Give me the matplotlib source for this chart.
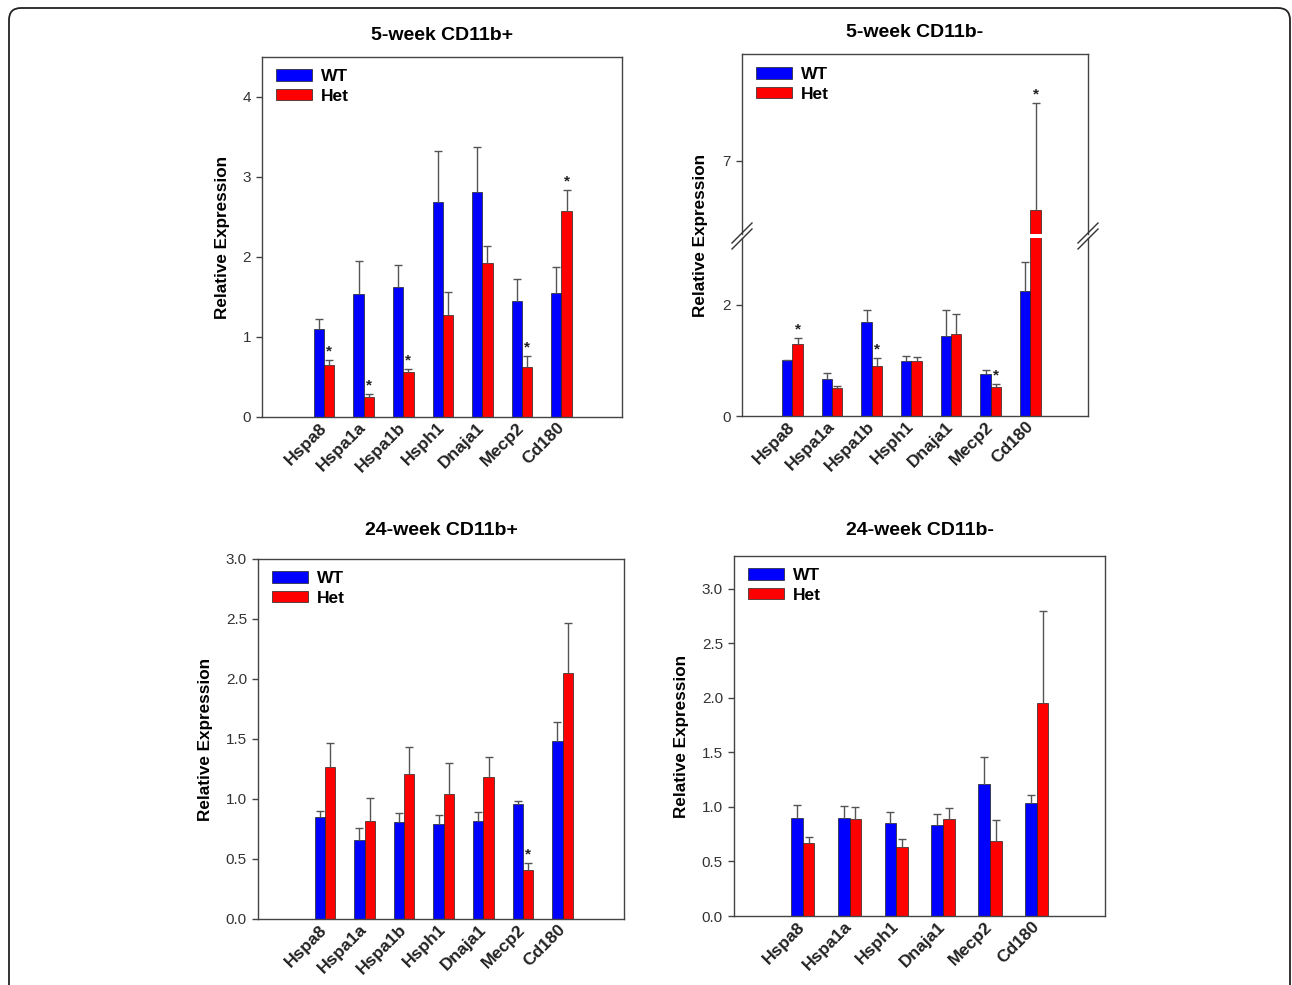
import numpy as np
import matplotlib
matplotlib.use("Agg")
import matplotlib.pyplot as plt
from matplotlib.patches import FancyBboxPatch
from matplotlib.transforms import IdentityTransform

plt.rcParams['font.family'] = ['Liberation Sans', 'DejaVu Sans']

# ______________________________ DATA ______________________________ #
genes7 = ["Hspa8", "Hspa1a", "Hspa1b", "Hsph1", "Dnaja1", "Mecp2", "Cd180"]
genes6 = ["Hspa8", "Hspa1a", "Hsph1", "Dnaja1", "Mecp2", "Cd180"]

# 5-week CD11b+
wt_5p = [1.10, 1.54, 1.63, 2.69, 2.81, 1.45, 1.55]
wt_5p_err = [1.23, 1.95, 1.90, 3.32, 3.37, 1.72, 1.87]     # top of error bar
het_5p = [0.65, 0.25, 0.56, 1.28, 1.93, 0.62, 2.58]
het_5p_err = [0.71, 0.29, 0.60, 1.56, 2.14, 0.76, 2.84]
star_5p = [1, 1, 1, 0, 0, 1, 1]

# 5-week CD11b-
wt_5m = [1.00, 0.67, 1.69, 0.98, 1.44, 0.75, 2.24]
wt_5m_err = [1.01, 0.78, 1.91, 1.08, 1.90, 0.83, 2.77]
het_5m = [1.30, 0.50, 0.90, 0.99, 1.48, 0.53, 6.12]
het_5m_err = [1.40, 0.545, 1.04, 1.06, 1.84, 0.58, 8.03]
star_5m = [1, 0, 1, 0, 0, 1, 1]

# 24-week CD11b+
wt_24p = [0.85, 0.66, 0.81, 0.79, 0.82, 0.96, 1.48]
wt_24p_err = [0.90, 0.76, 0.88, 0.87, 0.89, 0.985, 1.64]
het_24p = [1.27, 0.82, 1.21, 1.04, 1.18, 0.41, 2.05]
het_24p_err = [1.465, 1.01, 1.43, 1.30, 1.35, 0.47, 2.47]
star_24p = [0, 0, 0, 0, 0, 1, 0]

# 24-week CD11b-
wt_24m = [0.895, 0.90, 0.85, 0.834, 1.21, 1.033]
wt_24m_err = [1.02, 1.01, 0.956, 0.935, 1.457, 1.11]
het_24m = [0.665, 0.886, 0.635, 0.886, 0.69, 1.95]
het_24m_err = [0.725, 1.00, 0.71, 0.987, 0.883, 2.80]
star_24m = [0, 0, 0, 0, 0, 0]

BLUE = "#0000ff"
RED = "#ff0000"
EDGE = "#222222"
ECOL = "#555555"
W = 1292
H = 985


# ____________________________ FUNCTIONS ____________________________ #
def px_axes(fig, left, top, right, bottom):                 # axes from pixel box (top-origin)
    return fig.add_axes([left / W, (H - bottom) / H, (right - left) / W, (bottom - top) / H])


def draw_bars(ax, genes, wt, wt_e, het, het_e, stars, bw):
    x = np.arange(len(genes))
    ax.bar(x - bw / 2, wt, bw, color=BLUE, edgecolor=EDGE, linewidth=0.5, label="WT", zorder=2)
    ax.bar(x + bw / 2, het, bw, color=RED, edgecolor=EDGE, linewidth=0.5, label="Het", zorder=2)
    for xs, v, e in ((x - bw / 2, wt, wt_e), (x + bw / 2, het, het_e)):
        ax.vlines(xs, v, e, color=ECOL, linewidth=1.0, zorder=3)
        ax.plot(xs, e, linestyle="none", marker="_", markersize=6, markeredgewidth=1.0,
                color=ECOL, zorder=3)
    for i in range(len(genes)):
        if stars[i]:
            ax.annotate("*", (x[i] + bw / 2, het_e[i]), xytext=(0, 1), textcoords="offset points",
                        ha="center", va="bottom", fontsize=11, fontweight="bold", color="#222222")
    return x


def style_axes(ax):
    for s in ax.spines.values():
        s.set_color("#444444")
        s.set_linewidth(1.0)
    ax.tick_params(axis="y", direction="out", length=4, width=1, color="#444444",
                   labelsize=11, labelcolor="#333333", pad=4)
    ax.tick_params(axis="x", length=0, pad=6)


def set_xlabels(ax, x, genes):
    ax.set_xticks(x)
    ax.set_xticklabels(genes, rotation=45, ha="right", va="center", rotation_mode="anchor",
                       fontsize=12.5, fontweight="bold", color="#222222")


def add_legend(ax):
    ax.legend(loc="upper left", bbox_to_anchor=(0.0, 1.005), frameon=False,
              prop={"weight": "bold", "size": 12.5}, handlelength=2.1, handleheight=0.62,
              labelspacing=0.28, handletextpad=0.5, borderpad=0.3)


fig = plt.figure(figsize=(W / 100, H / 100), dpi=100)

# outer rounded frame
frame = FancyBboxPatch((9, -30), 1281, 1007, boxstyle="round,pad=0,rounding_size=12",
                       transform=IdentityTransform(), facecolor="none", edgecolor="#222222",
                       linewidth=1.3)
fig.patches.append(frame)

bw = 0.26

# ___________________________ 5-week CD11b+ ___________________________ #
ax1 = px_axes(fig, 262, 57, 622, 417)
x = draw_bars(ax1, genes7, wt_5p, wt_5p_err, het_5p, het_5p_err, star_5p, bw)
ax1.set_xlim(-1.57, 7.53)
ax1.set_ylim(0, 4.5)
ax1.set_yticks([0, 1, 2, 3, 4])
style_axes(ax1)
set_xlabels(ax1, x, genes7)
ax1.set_ylabel("Relative Expression", fontsize=12.3, fontweight="bold", labelpad=9)
ax1.set_title("5-week CD11b+", fontsize=14, fontweight="bold", pad=12)
add_legend(ax1)

# ___________________________ 5-week CD11b- (broken axis) ___________________________ #
ax2u = px_axes(fig, 742, 54, 1088, 234)
ax2l = px_axes(fig, 742, 238, 1088, 416)
for a in (ax2u, ax2l):
    x = draw_bars(a, genes7, wt_5m, wt_5m_err, het_5m, het_5m_err, star_5m, bw)
    a.set_xlim(-1.27, 7.45)
    style_axes(a)
ax2l.set_ylim(0, 3.2)
ax2l.set_yticks([0, 2])
ax2u.set_ylim(5.7, 8.9)
ax2u.set_yticks([7])
ax2u.spines["bottom"].set_visible(False)
ax2l.spines["top"].set_visible(False)
ax2u.set_xticks([])
set_xlabels(ax2l, x, genes7)
ax2u.set_title("5-week CD11b-", fontsize=14, fontweight="bold", pad=12)
add_legend(ax2u)
fig.text(700 / W, (H - 235) / H, "Relative Expression", rotation=90, ha="center", va="center",
         fontsize=12.3, fontweight="bold")
# break marks
for xb in (742, 1088):
    for dy in (-3, 3):
        fig.lines.append(plt.Line2D([(xb - 10) / W, (xb + 10) / W],
                                    [(H - 236 - 10 + dy) / H, (H - 236 + 10 + dy) / H],
                                    transform=fig.transFigure, color="#333333", linewidth=1.0))

# ___________________________ 24-week CD11b+ ___________________________ #
ax3 = px_axes(fig, 258, 559, 624, 919)
x = draw_bars(ax3, genes7, wt_24p, wt_24p_err, het_24p, het_24p_err, star_24p, bw)
ax3.set_xlim(-1.69, 7.55)
ax3.set_ylim(0, 3.0)
ax3.set_yticks(np.arange(0, 3.01, 0.5))
ax3.set_yticklabels(["%.1f" % v for v in np.arange(0, 3.01, 0.5)])
style_axes(ax3)
set_xlabels(ax3, x, genes7)
ax3.set_ylabel("Relative Expression", fontsize=12.3, fontweight="bold", labelpad=9)
ax3.set_title("24-week CD11b+", fontsize=14, fontweight="bold", pad=17)
add_legend(ax3)

# ___________________________ 24-week CD11b- ___________________________ #
ax4 = px_axes(fig, 734, 556, 1105, 916)
bw4 = 0.25
x = draw_bars(ax4, genes6, wt_24m, wt_24m_err, het_24m, het_24m_err, star_24m, bw4)
ax4.set_xlim(-1.47, 6.46)
ax4.set_ylim(0, 3.3)
ax4.set_yticks(np.arange(0, 3.01, 0.5))
ax4.set_yticklabels(["%.1f" % v for v in np.arange(0, 3.01, 0.5)])
style_axes(ax4)
set_xlabels(ax4, x, genes6)
ax4.set_ylabel("Relative Expression", fontsize=12.3, fontweight="bold", labelpad=9)
ax4.set_title("24-week CD11b-", fontsize=14, fontweight="bold", pad=15)
add_legend(ax4)

fig.savefig("out.png", dpi=100)
